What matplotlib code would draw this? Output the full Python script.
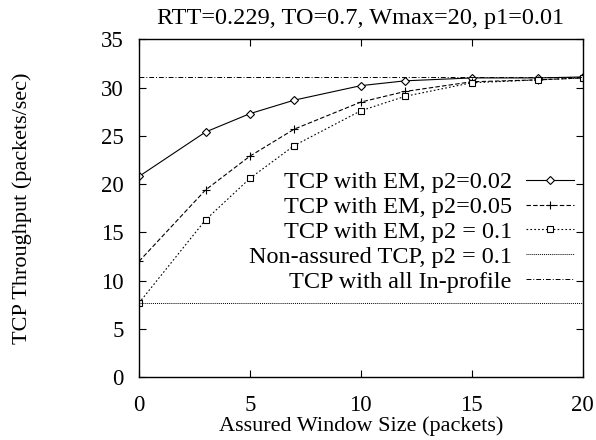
import matplotlib
matplotlib.use("Agg")
import matplotlib.pyplot as plt

# values
window = [0, 3, 5, 7, 10, 12, 15, 18, 20]
em_p002 = [20.8, 25.4, 27.3, 28.7, 30.2, 30.7, 31.0, 31.0, 31.1]
em_p005 = [12.0, 19.4, 22.9, 25.7, 28.5, 29.6, 30.6, 30.8, 31.0]
em_p01 = [7.7, 16.3, 20.6, 24.0, 27.6, 29.1, 30.5, 30.8, 31.0]
non_assured = 7.7
all_inprofile = 31.1

labels = ["TCP with EM, p2=0.02", "TCP with EM, p2=0.05", "TCP with EM, p2 = 0.1",
          "Non-assured TCP, p2 = 0.1", "TCP with all In-profile"]

plt.rcParams['font.family'] = ['Liberation Serif', 'DejaVu Serif']

fig = plt.figure(figsize=(5.96, 4.4), dpi=100)
ax = fig.add_axes([0.2332, 0.1425, 0.9777 - 0.2332, 0.9107 - 0.1425])

lw = 0.8
ax.plot(window, em_p002, color='black', lw=lw, ls='-', marker='D', ms=4,
        mfc='white', mec='black', mew=0.8, label=labels[0])
ax.plot(window, em_p005, color='black', lw=lw, ls=(0, (4, 2)), marker='+', ms=6,
        mew=0.8, label=labels[1])
ax.plot(window, em_p01, color='black', lw=lw, ls=(0, (1.5, 2)), marker='s', ms=4.5,
        mfc='white', mec='black', mew=0.8, label=labels[2])
ax.axhline(non_assured, color='black', lw=0.7, ls=(0, (1, 1)), label=labels[3])
ax.axhline(all_inprofile, color='black', lw=0.7, ls=(0, (5, 2, 1, 2)), label=labels[4])

ax.set_xlim(0, 20)
ax.set_ylim(0, 35)
ax.set_xticks([0, 5, 10, 15, 20])
ax.set_yticks([0, 5, 10, 15, 20, 25, 30, 35])
ax.tick_params(direction='in', length=5, width=0.8, top=True, right=True,
               labelsize=16.5)
ax.tick_params(axis='x', pad=13)
ax.tick_params(axis='y', pad=11)
for s in ax.spines.values():
    s.set_linewidth(1.0)

ax.set_title("RTT=0.229, TO=0.7, Wmax=20, p1=0.01", fontsize=17.5, pad=11)
ax.set_xlabel("Assured Window Size (packets)", fontsize=16, labelpad=0)
ax.set_ylabel("TCP Throughput (packets/sec)", fontsize=16, labelpad=50)

ax.legend(loc='center right', bbox_to_anchor=(0.98, 0.43), frameon=False,
          markerfirst=False, fontsize=17.5, handlelength=1.95, handletextpad=0.6,
          labelspacing=0.12, borderpad=0, borderaxespad=0)

fig.savefig("out.png", dpi=100)
